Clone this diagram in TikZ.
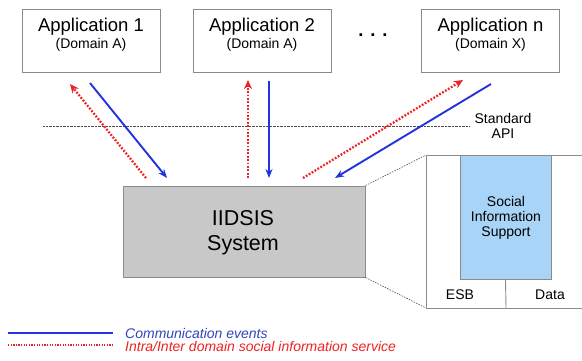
\documentclass[tikz,border=0pt]{standalone}
\usepackage{fontspec}
\setmainfont{Liberation Sans}
\usetikzlibrary{arrows.meta,calc}
\definecolor{evblue}{HTML}{2233DD}
\definecolor{svred}{HTML}{EE2222}
\definecolor{legblue}{HTML}{3344BB}
\definecolor{boxgrey}{HTML}{8A8A8A}
\definecolor{sysgrey}{HTML}{C8C8C8}
\definecolor{sisblue}{HTML}{A8D4F8}
\tikzset{
  appbox/.style={draw=boxgrey, line width=0.9pt, fill=white, minimum width=138pt, minimum height=63pt, inner sep=0pt},
  bigtxt/.style={font=\fontsize{18.5}{20}\selectfont, inner sep=0pt},
  smalltxt/.style={font=\fontsize{14}{16}\selectfont, inner sep=0pt},
  evarrow/.style={draw=evblue, line width=1.9pt, -{Stealth[length=9pt,width=7pt]}},
  svarrow/.style={draw=svred, line width=2.3pt, dash pattern=on 1.8pt off 1.6pt, -{Stealth[length=9pt,width=8pt]}},
  apiline/.style={draw=black!70, line width=0.8pt, dash pattern=on 0.8pt off 0.6pt},
  zoomline/.style={draw=black!70, line width=0.6pt, dash pattern=on 1.5pt off 1.2pt},
}
\begin{document}
\begin{tikzpicture}[x=1pt,y=-1pt]
\useasboundingbox (0,0) rectangle (582,360);
% application boxes
\node[appbox] (a1) at (91,40.5) {};
\node[appbox] (a2) at (262,40.5) {};
\node[appbox] (an) at (490.5,40.5) {};
\node[bigtxt] (a1t) at (91,27) {Application 1};
\node[smalltxt] (a1d) at (91,44.5) {(Domain A)};
\node[bigtxt] (a2t) at (262,27) {Application 2};
\node[smalltxt] (a2d) at (262,44.5) {(Domain A)};
\node[bigtxt] (ant) at (490.5,27) {Application n};
\node[smalltxt] (and) at (490.5,44.5) {(Domain X)};
\node[bigtxt] (dots) at (373,35) {\textbf{. . .}};
% standard API line
\coordinate (apiL) at (43,126);
\coordinate (apiR) at (470,126);
\draw[apiline] (apiL) -- (apiR);
\node[smalltxt, align=center] (api) at (503,126) {Standard\\[-1pt]API};
% system box
\node[draw=boxgrey, line width=0.9pt, fill=sysgrey, minimum width=242pt, minimum height=91pt, inner sep=0pt] (sys) at (244,231.5) {};
\node[font=\fontsize{21.5}{25}\selectfont, align=center, inner sep=0pt] (syst) at (243,233) {IIDSIS\\System};
% zoom panel
\coordinate (pTL) at (426,155);
\coordinate (pBL) at (426,308);
\coordinate (pTR) at (584,155);
\coordinate (pBR) at (584,308);
\draw[draw=boxgrey, line width=0.9pt] (pTR) -- (pTL) -- (pBL) -- (pBR);
\node[draw=boxgrey, line width=0.9pt, fill=sisblue, minimum width=91pt, minimum height=124pt, inner sep=0pt] (sis) at (505.5,217) {};
\node[smalltxt, align=center] (sist) at (506,218) {Social\\[-1pt]Information\\[-1pt]Support};
\coordinate (divB) at (506,308);
\draw[draw=boxgrey, line width=0.9pt] (sis.south) -- (divB);
\node[smalltxt] (esb) at (460,295) {ESB};
\node[smalltxt] (data) at (550,295) {Data};
\draw[zoomline] (sys.north east) -- (pTL);
\draw[zoomline] (sys.south east) -- (pBL);
% arrows app1
\coordinate (r1s) at (146,178); \coordinate (r1e) at (70,84);
\coordinate (b1s) at (90,83);   \coordinate (b1e) at (167,178);
\draw[svarrow] (r1s) -- (r1e);
\draw[evarrow] (b1s) -- (b1e);
% arrows app2
\coordinate (r2s) at (248,178); \coordinate (r2e) at (248,80);
\coordinate (b2s) at (269,81);  \coordinate (b2e) at (269,178);
\draw[svarrow] (r2s) -- (r2e);
\draw[evarrow] (b2s) -- (b2e);
% arrows app n
\coordinate (rns) at (303,178); \coordinate (rne) at (463,80);
\coordinate (bns) at (491,84);  \coordinate (bne) at (335,178);
\draw[svarrow] (rns) -- (rne);
\draw[evarrow] (bns) -- (bne);
% legend
\coordinate (l1s) at (8,333); \coordinate (l1e) at (113,333);
\coordinate (l2s) at (8,345); \coordinate (l2e) at (113,345);
\draw[draw=evblue, line width=1.8pt] (l1s) -- (l1e);
\draw[draw=svred, line width=1.6pt, dash pattern=on 1.3pt off 1.3pt] (l2s) -- (l2e);
\node[smalltxt, anchor=west, text=legblue, font=\fontsize{14}{16}\selectfont\itshape] (leg1) at (125,333) {Communication events};
\node[smalltxt, anchor=west, text=svred, font=\fontsize{14}{16}\selectfont\itshape] (leg2) at (125,346) {Intra/Inter domain social information service};
\end{tikzpicture}
\end{document}
